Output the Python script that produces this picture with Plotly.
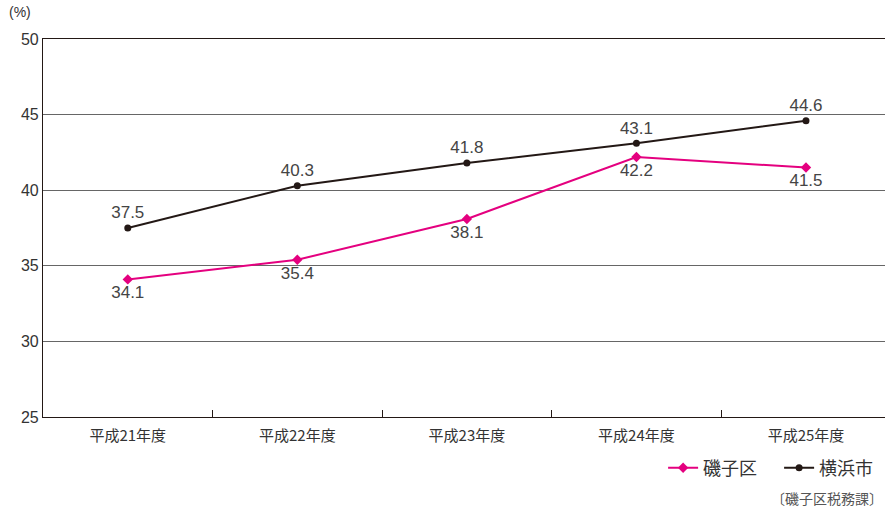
import plotly.graph_objects as go

categories = ["平成21年度", "平成22年度", "平成23年度", "平成24年度", "平成25年度"]
isogo = [34.1, 35.4, 38.1, 42.2, 41.5]
yokohama = [37.5, 40.3, 41.8, 43.1, 44.6]
y_ticks = [25, 30, 35, 40, 45, 50]

JP = "Noto Sans CJK JP"
NUM = "Liberation Sans, Arial, sans-serif"

fig = go.Figure()
fig.add_trace(go.Scatter(
    x=categories, y=isogo, name="磯子区", mode="lines+markers+text",
    line=dict(color="#E4007F", width=2),
    marker=dict(symbol="diamond", size=8, color="#E4007F"),
    text=[f"{v:.1f}" for v in isogo], textposition="bottom center",
    textfont=dict(family=NUM, size=17, color="#444444"),
))
fig.add_trace(go.Scatter(
    x=categories, y=yokohama, name="横浜市", mode="lines+markers+text",
    line=dict(color="#231815", width=2),
    marker=dict(symbol="circle", size=7, color="#231815"),
    text=[f"{v:.1f}" for v in yokohama], textposition="top center",
    textfont=dict(family=NUM, size=17, color="#444444"),
))

fig.update_layout(
    width=885, height=510,
    margin=dict(l=43, r=0, t=39, b=93, autoexpand=False),
    paper_bgcolor="white", plot_bgcolor="white",
    showlegend=True,
    legend=dict(orientation="h", x=1.012, xanchor="right", y=-0.135, yanchor="middle",
                font=dict(family=JP, size=18, color="#333333"), itemwidth=30,
                entrywidth=71, entrywidthmode="pixels",
                traceorder="normal", bgcolor="rgba(0,0,0,0)"),
    xaxis=dict(type="category", range=[-0.5, 4.466], showgrid=False, automargin=False,
               showline=True, linecolor="#231815", linewidth=1.2, mirror=True,
               ticks="inside", tickson="boundaries", ticklen=7, tickcolor="#231815",
               ticklabelstandoff=5,
               tickfont=dict(family=JP, size=15, color="#333333")),
    yaxis=dict(range=[25, 50], tickvals=y_ticks, showgrid=True, gridcolor="#666666",
               gridwidth=1, showline=True, linecolor="#231815", linewidth=1.2,
               mirror=True, ticks="", zeroline=False, automargin=False,
               tickfont=dict(family=NUM, size=16, color="#333333")),
    annotations=[
        dict(text="(%)", xref="paper", yref="paper", x=-0.043, y=1.045, xanchor="left",
             yanchor="bottom", showarrow=False,
             font=dict(family=NUM, size=14, color="#333333")),
        dict(text="〔磯子区税務課〕", xref="paper", yref="paper", x=1.0, y=-0.215,
             xanchor="right", yanchor="middle", showarrow=False,
             font=dict(family=JP, size=14, color="#555555")),
    ],
)

fig.write_html("out.html", config={"displayModeBar": False},
               post_script="document.body.style.margin='0';document.body.style.overflow='hidden';")
